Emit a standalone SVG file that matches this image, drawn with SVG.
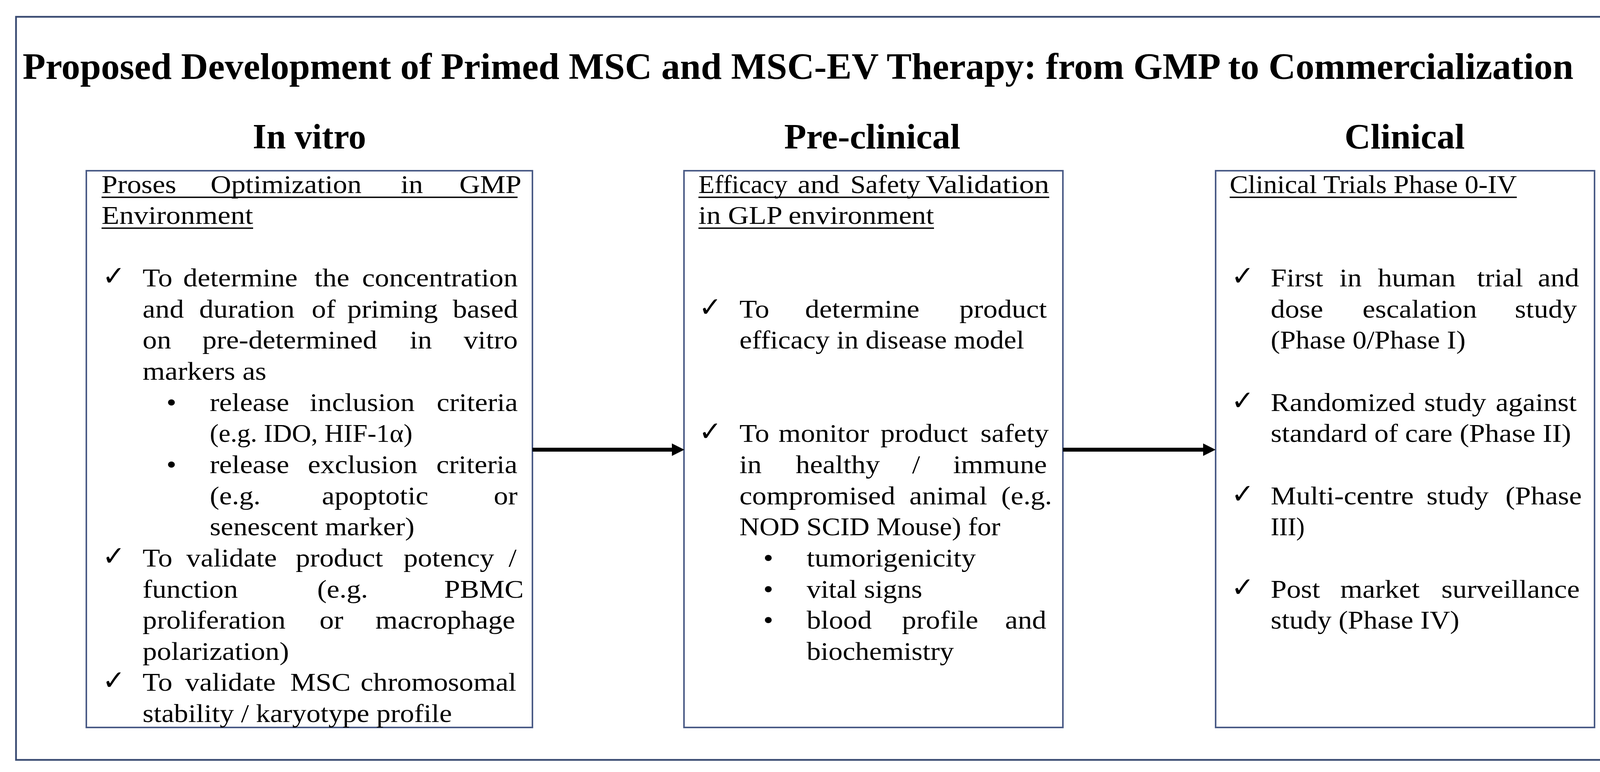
<svg xmlns="http://www.w3.org/2000/svg" width="4288" height="1976" viewBox="0 0 4288 1976">
<style>
.t{font-family:"Liberation Serif","Times New Roman",serif;font-size:66px;fill:#000}
.h{font-family:"Liberation Serif","Times New Roman",serif;font-weight:bold;fill:#000}
.ck{font-family:"DejaVu Sans",sans-serif;font-size:70px;fill:#000}
.ul{stroke:#000;stroke-width:3.5}
.box{fill:#fff;stroke:#4a5b86;stroke-width:4}
.frame{fill:#fff;stroke:#3a4b72;stroke-width:4.5}
.conn{stroke:#000;stroke-width:10;fill:none}
</style>
<defs>
<marker id="ah" markerUnits="userSpaceOnUse" markerWidth="34" markerHeight="34" refX="0" refY="16" orient="auto">
<path d="M0,0 L32,16 L0,32 z" fill="#000"/>
</marker>
</defs>
<rect width="4288" height="1976" fill="#fff"/>
<rect class="frame" x="41" y="43" width="4220" height="1902"/>
<g id="title">
<text class="h" x="58" y="202" font-size="95" textLength="3970" lengthAdjust="spacingAndGlyphs">Proposed Development of Primed MSC and MSC-EV Therapy: from GMP to Commercialization</text>
</g>
<g id="node-invitro">
<text class="h" x="792" y="380" font-size="90" text-anchor="middle" textLength="290" lengthAdjust="spacingAndGlyphs">In vitro</text>
<rect class="box" x="221" y="437" width="1142" height="1425"/>
<line class="ul" x1="260" y1="505" x2="1325" y2="505"/>
<line class="ul" x1="260" y1="584" x2="648" y2="584"/>
<text class="ck" x="262" y="730">✓</text>
<text class="ck" x="262" y="1447">✓</text>
<text class="ck" x="262" y="1765">✓</text>
<g transform="translate(260,0) scale(1.11,1)">
<text class="t" y="494"><tspan x="0">Proses</tspan><tspan x="251.4">Optimization</tspan><tspan x="690.1">in</tspan><tspan x="825.2">GMP</tspan></text>
<text class="t" x="0" y="573" textLength="349.5" lengthAdjust="spacingAndGlyphs">Environment</text>
<text class="t" y="733"><tspan x="94.6">To</tspan><tspan x="188.3">determine</tspan><tspan x="491">the</tspan><tspan x="600.9">concentration</tspan></text>
<text class="t" y="813"><tspan x="94.6">and</tspan><tspan x="225.2">duration</tspan><tspan x="484.7">of</tspan><tspan x="566.7">priming</tspan><tspan x="809.9">based</tspan></text>
<text class="t" y="892"><tspan x="94.6">on</tspan><tspan x="232.4">pre-determined</tspan><tspan x="710.8">in</tspan><tspan x="835.1">vitro</tspan></text>
<text class="t" x="94.6" y="972" textLength="285.6" lengthAdjust="spacingAndGlyphs">markers as</text>
<text class="t" x="149.5" y="1052">•</text>
<text class="t" y="1052"><tspan x="249.5">release</tspan><tspan x="480.2">inclusion</tspan><tspan x="773">criteria</tspan></text>
<text class="t" x="249.5" y="1131" textLength="467.6" lengthAdjust="spacingAndGlyphs">(e.g. IDO, HIF-1α)</text>
<text class="t" x="149.5" y="1211">•</text>
<text class="t" y="1211"><tspan x="249.5">release</tspan><tspan x="475.7">exclusion</tspan><tspan x="772.1">criteria</tspan></text>
<text class="t" y="1291"><tspan x="249.5">(e.g.</tspan><tspan x="508.1">apoptotic</tspan><tspan x="904.5">or</tspan></text>
<text class="t" x="249.5" y="1370" textLength="472.1" lengthAdjust="spacingAndGlyphs">senescent marker)</text>
<text class="t" y="1450"><tspan x="94.6">To</tspan><tspan x="195.5">validate</tspan><tspan x="447.7">product</tspan><tspan x="696.4">potency</tspan><tspan x="938.7">/</tspan></text>
<text class="t" y="1530"><tspan x="94.6">function</tspan><tspan x="497.3">(e.g.</tspan><tspan x="790.1">PBMC</tspan></text>
<text class="t" y="1609"><tspan x="94.6">proliferation</tspan><tspan x="502.7">or</tspan><tspan x="631.5">macrophage</tspan></text>
<text class="t" x="94.6" y="1689" textLength="337.8" lengthAdjust="spacingAndGlyphs">polarization)</text>
<text class="t" y="1768"><tspan x="94.6">To</tspan><tspan x="192.8">validate</tspan><tspan x="435.1">MSC</tspan><tspan x="597.3">chromosomal</tspan></text>
<text class="t" x="94.6" y="1848" textLength="713.5" lengthAdjust="spacingAndGlyphs">stability / karyotype profile</text>
</g>
</g>
<g id="node-preclinical">
<text class="h" x="2233" y="380" font-size="90" text-anchor="middle" textLength="451" lengthAdjust="spacingAndGlyphs">Pre-clinical</text>
<rect class="box" x="1751" y="437" width="970" height="1425"/>
<line class="ul" x1="1788" y1="505" x2="2686" y2="505"/>
<line class="ul" x1="1788" y1="584" x2="2391" y2="584"/>
<text class="t" x="1788" y="494" textLength="228" lengthAdjust="spacingAndGlyphs">Efficacy</text>
<text class="t" x="2042" y="494" textLength="107" lengthAdjust="spacingAndGlyphs">and</text>
<text class="t" x="2177" y="494" textLength="179" lengthAdjust="spacingAndGlyphs">Safety</text>
<text class="t" x="2370" y="494" textLength="316" lengthAdjust="spacingAndGlyphs">Validation</text>
<text class="ck" x="1789" y="810">✓</text>
<text class="ck" x="1789" y="1128">✓</text>
<g transform="translate(1788,0) scale(1.11,1)">
<text class="t" x="0" y="573" textLength="543.2" lengthAdjust="spacingAndGlyphs">in GLP environment</text>
<text class="t" y="813"><tspan x="94.6">To</tspan><tspan x="245.9">determine</tspan><tspan x="601.8">product</tspan></text>
<text class="t" x="94.6" y="892" textLength="656.8" lengthAdjust="spacingAndGlyphs">efficacy in disease model</text>
<text class="t" y="1131"><tspan x="94.6">To</tspan><tspan x="184.7">monitor</tspan><tspan x="419.8">product</tspan><tspan x="650.5">safety</tspan></text>
<text class="t" y="1211"><tspan x="94.6">in</tspan><tspan x="224.3">healthy</tspan><tspan x="492.8">/</tspan><tspan x="587.4">immune</tspan></text>
<text class="t" y="1291"><tspan x="94.6">compromised</tspan><tspan x="486.5">animal</tspan><tspan x="698.2">(e.g.</tspan></text>
<text class="t" x="94.6" y="1370" textLength="601.8" lengthAdjust="spacingAndGlyphs">NOD SCID Mouse) for</text>
<text class="t" x="149.5" y="1450">•</text>
<text class="t" x="249.5" y="1450" textLength="390.1" lengthAdjust="spacingAndGlyphs">tumorigenicity</text>
<text class="t" x="149.5" y="1530">•</text>
<text class="t" x="249.5" y="1530" textLength="266.7" lengthAdjust="spacingAndGlyphs">vital signs</text>
<text class="t" x="149.5" y="1609">•</text>
<text class="t" y="1609"><tspan x="249.5">blood</tspan><tspan x="469.4">profile</tspan><tspan x="707.2">and</tspan></text>
<text class="t" x="249.5" y="1689" textLength="339.6" lengthAdjust="spacingAndGlyphs">biochemistry</text>
</g>
</g>
<g id="node-clinical">
<text class="h" x="3596" y="380" font-size="90" text-anchor="middle" textLength="308" lengthAdjust="spacingAndGlyphs">Clinical</text>
<rect class="box" x="3112" y="437" width="970" height="1425"/>
<line class="ul" x1="3148" y1="505" x2="3883" y2="505"/>
<text class="ck" x="3152" y="730">✓</text>
<text class="ck" x="3152" y="1049">✓</text>
<text class="ck" x="3152" y="1288">✓</text>
<text class="ck" x="3152" y="1527">✓</text>
<g transform="translate(3148,0) scale(1.11,1)">
<text class="t" x="0" y="494" textLength="662.2" lengthAdjust="spacingAndGlyphs">Clinical Trials Phase 0-IV</text>
<text class="t" y="733"><tspan x="94.6">First</tspan><tspan x="253.2">in</tspan><tspan x="341.4">human</tspan><tspan x="570.3">trial</tspan><tspan x="710.8">and</tspan></text>
<text class="t" y="813"><tspan x="94.6">dose</tspan><tspan x="306.3">escalation</tspan><tspan x="657.7">study</tspan></text>
<text class="t" x="94.6" y="892" textLength="449.5" lengthAdjust="spacingAndGlyphs">(Phase 0/Phase I)</text>
<text class="t" y="1052"><tspan x="94.6">Randomized</tspan><tspan x="448.6">study</tspan><tspan x="613.5">against</tspan></text>
<text class="t" x="94.6" y="1131" textLength="692.8" lengthAdjust="spacingAndGlyphs">standard of care (Phase II)</text>
<text class="t" y="1291"><tspan x="94.6">Multi-centre</tspan><tspan x="454.1">study</tspan><tspan x="636">(Phase</tspan></text>
<text class="t" x="94.6" y="1370" textLength="78.4" lengthAdjust="spacingAndGlyphs">III)</text>
<text class="t" y="1530"><tspan x="94.6">Post</tspan><tspan x="255">market</tspan><tspan x="488.3">surveillance</tspan></text>
<text class="t" x="94.6" y="1609" textLength="435.1" lengthAdjust="spacingAndGlyphs">study (Phase IV)</text>
</g>
</g>
<g id="connectors">
<line class="conn" x1="1363" y1="1151" x2="1720" y2="1151" marker-end="url(#ah)"/>
<line class="conn" x1="2721" y1="1151" x2="3080" y2="1151" marker-end="url(#ah)"/>
</g>
</svg>
